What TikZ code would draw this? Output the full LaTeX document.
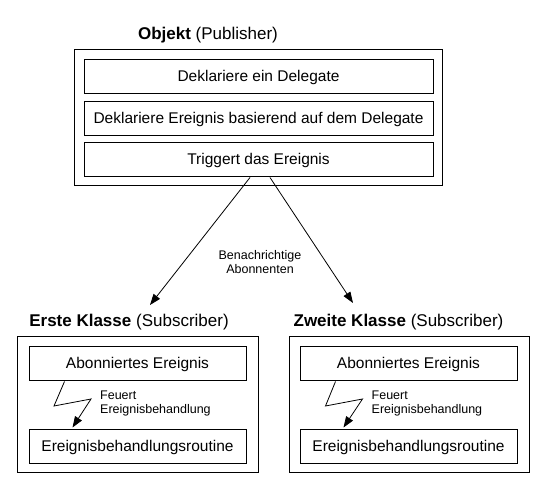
\documentclass[tikz,border=0pt]{standalone}
\usepackage{fontspec}
\setmainfont{Liberation Sans}
\usetikzlibrary{arrows.meta,calc}
\tikzset{
  outerbox/.style={draw=black, line width=1pt, fill=none, inner sep=0pt},
  innerbox/.style={draw=black, line width=1pt, inner sep=0pt, font=\fontsize{15.5}{18}\selectfont},
  titletext/.style={inner sep=0pt, font=\fontsize{17}{20}\selectfont},
  smalltext/.style={inner sep=0pt, font=\fontsize{12.5}{14.5}\selectfont},
  conn/.style={line width=0.8pt, -{Triangle[length=11pt,width=8pt]}},
}
\begin{document}
\begin{tikzpicture}[x=1pt,y=-1pt]
\useasboundingbox (0,0) rectangle (550,502);
% Publisher
\node[outerbox, minimum width=368pt, minimum height=136pt] (pub) at (258,118) {};
\node[titletext] (pubt) at (208,35) {\textbf{Objekt} (Publisher)};
\node[innerbox, minimum width=349pt, minimum height=34pt] (p1) at (258.5,77) {Deklariere ein Delegate};
\node[innerbox, minimum width=349pt, minimum height=34pt] (p2) at (258.5,119) {Deklariere Ereignis basierend auf dem Delegate};
\node[innerbox, minimum width=349pt, minimum height=34pt] (p3) at (258.5,160) {Triggert das Ereignis};
% Subscriber 1
\node[outerbox, minimum width=240.5pt, minimum height=136pt] (s1) at (137.75,405) {};
\node[titletext] (s1t) at (129,322) {\textbf{Erste Klasse} (Subscriber)};
\node[innerbox, minimum width=217pt, minimum height=34pt] (s1a) at (137.5,364) {Abonniertes Ereignis};
\node[innerbox, minimum width=217pt, minimum height=34pt] (s1b) at (137.5,447) {Ereignisbehandlungsroutine};
% Subscriber 2
\node[outerbox, minimum width=240pt, minimum height=136pt] (s2) at (409,405) {};
\node[titletext] (s2t) at (398.5,322) {\textbf{Zweite Klasse} (Subscriber)};
\node[innerbox, minimum width=217pt, minimum height=34pt] (s2a) at (408.5,364) {Abonniertes Ereignis};
\node[innerbox, minimum width=217pt, minimum height=34pt] (s2b) at (408.5,447) {Ereignisbehandlungsroutine};
% Notification arrows
\coordinate (e1) at (150,305);
\coordinate (e2) at (353,303);
\draw[conn] ($(p3.south)+(-8.5,0)$) -- (e1);
\draw[conn] ($(p3.south)+(11.5,0)$) -- (e2);
\node[smalltext, align=center] (ntext) at (260,262) {Benachrichtige\\Abonnenten};
% Lightning arrows
\draw[conn] ($(s1a.south west)+(36,0)$) -- (54,406) -- (91,399) -- ($(s1b.north west)+(44,-2)$);
\node[smalltext, align=left, anchor=west] (f1) at (100,403.5) {Feuert\\Ereignisbehandlung};
\draw[conn] ($(s2a.south west)+(36,0)$) -- (325.5,406) -- (362.5,399) -- ($(s2b.north west)+(44,-2)$);
\node[smalltext, align=left, anchor=west] (f2) at (371.5,403.5) {Feuert\\Ereignisbehandlung};
\end{tikzpicture}
\end{document}
